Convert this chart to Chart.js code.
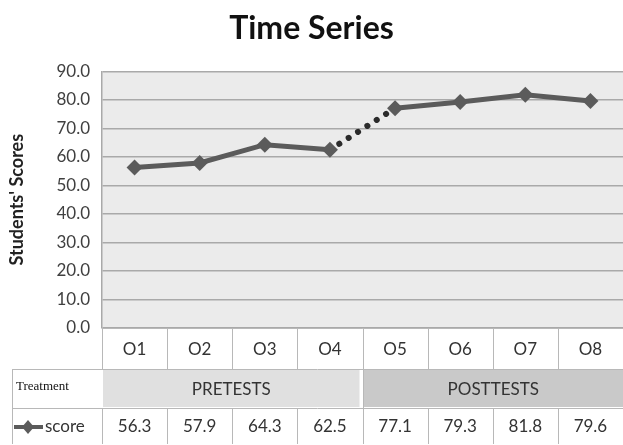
<!DOCTYPE html>
<html>
<head>
<meta charset="utf-8">
<script src="https://cdn.jsdelivr.net/npm/chart.js@4"></script>
<style>
  html, body { margin: 0; padding: 0; background: #fff; overflow: hidden; }
  /* 8px breiter: Chart.js hält rechts Platz für die Punkte frei */
  #wrap { width: 631px; height: 445px; }
</style>
</head>
<body>
<div id="wrap"><canvas id="chart"></canvas></div>
<script>
const kategorien = ["O1", "O2", "O3", "O4", "O5", "O6", "O7", "O8"];
const werte = [56.3, 57.9, 64.3, 62.5, 77.1, 79.3, 81.8, 79.6];
const behandlung = ["PRETESTS", "PRETESTS", "PRETESTS", "PRETESTS", "POSTTESTS", "POSTTESTS", "POSTTESTS", "POSTTESTS"];
const phasenFarben = { PRETESTS: "#e0e0e0", POSTTESTS: "#c9c9c9" };
const gepunktet = [3]; // Segment O4 -> O5
const serienName = "score";
const zeilenTitel = "Treatment";
const yMax = 90;
const yStep = 10;

const SANS = "Lato, 'Open Sans', sans-serif";
const linienFarbe = "#5b5b5b";

const hintergrund = {
  id: "hintergrund",
  beforeDraw(chart) {
    const { ctx, chartArea: a } = chart;
    ctx.save();
    ctx.fillStyle = "#ebebeb";
    ctx.fillRect(a.left, a.top, a.right - a.left, a.bottom - a.top);
    ctx.restore();
  }
};

/* Datentabelle unter dem Diagramm */
const tabelle = {
  id: "tabelle",
  afterDraw(chart) {
    const { ctx, chartArea: a } = chart;
    const x = chart.scales.x;
    const n = kategorien.length;
    const colW = (a.right - a.left) / n;
    const r1 = a.bottom, r2 = a.bottom + 41, r3 = r2 + 39, r4 = chart.height - 1;
    const links = 12;
    const kante = i => x.getPixelForValue(i) - colW / 2;

    ctx.save();
    // Phasen zusammenfassen
    let start = 0;
    for (let i = 1; i <= n; i++) {
      if (i === n || behandlung[i] !== behandlung[start]) {
        const x0 = kante(start) + 1;
        const x1 = i === n ? a.right : kante(i) - 3;
        ctx.fillStyle = phasenFarben[behandlung[start]];
        ctx.fillRect(x0, r2 + 1, x1 - x0, r3 - r2 - 2);
        ctx.fillStyle = "#333";
        ctx.font = "17px " + SANS;
        ctx.textAlign = "center";
        ctx.textBaseline = "middle";
        ctx.fillText(behandlung[start], (x0 + x1) / 2, (r2 + r3) / 2 + 1);
        start = i;
      }
    }

    ctx.strokeStyle = "#b8b8b8";
    ctx.lineWidth = 1;
    ctx.beginPath();
    // waagerechte Linien
    ctx.moveTo(a.left, r1 + 0.5); ctx.lineTo(a.right, r1 + 0.5);
    ctx.moveTo(links, r2 + 0.5); ctx.lineTo(a.right, r2 + 0.5);
    ctx.moveTo(links, r3 + 0.5); ctx.lineTo(a.right, r3 + 0.5);
    // senkrechte Linien
    for (let i = 0; i < n; i++) {
      const xx = Math.round(kante(i)) + 0.5;
      ctx.moveTo(xx, r1); ctx.lineTo(xx, r2);
      ctx.moveTo(xx, r3); ctx.lineTo(xx, r4);
    }
    ctx.moveTo(Math.round(kante(4)) + 0.5, r2); ctx.lineTo(Math.round(kante(4)) + 0.5, r3);
    ctx.moveTo(links + 0.5, r2); ctx.lineTo(links + 0.5, r4);
    ctx.stroke();

    // Kategorien und Werte
    ctx.fillStyle = "#333";
    ctx.font = "17px " + SANS;
    ctx.textAlign = "center";
    ctx.textBaseline = "middle";
    for (let i = 0; i < n; i++) {
      const cx = x.getPixelForValue(i);
      ctx.fillText(kategorien[i], cx, (r1 + r2) / 2 + 1);
      ctx.fillText(werte[i].toFixed(1), cx, (r3 + r4) / 2 + 1);
    }

    // Zeilentitel
    ctx.font = "13px 'Liberation Serif', serif";
    ctx.textAlign = "left";
    ctx.fillStyle = "#111";
    ctx.fillText(zeilenTitel, links + 4, (r2 + r3) / 2 - 2);

    // Legendenzeichen
    const ly = (r3 + r4) / 2 + 1;
    ctx.strokeStyle = linienFarbe;
    ctx.lineWidth = 4;
    ctx.beginPath();
    ctx.moveTo(14, ly); ctx.lineTo(43, ly);
    ctx.stroke();
    ctx.fillStyle = linienFarbe;
    ctx.beginPath();
    ctx.moveTo(28, ly - 7); ctx.lineTo(34, ly); ctx.lineTo(28, ly + 7); ctx.lineTo(22, ly);
    ctx.closePath();
    ctx.fill();
    ctx.fillStyle = "#333";
    ctx.font = "17px " + SANS;
    ctx.fillText(serienName, 45, ly);
    ctx.restore();
  }
};

new Chart(document.getElementById("chart"), {
  type: "line",
  data: {
    labels: kategorien,
    datasets: [{
      label: serienName,
      data: werte,
      borderColor: linienFarbe,
      borderWidth: 5,
      pointStyle: "rectRot",
      pointRadius: 8,
      pointBackgroundColor: linienFarbe,
      pointBorderWidth: 0,
      tension: 0,
      segment: {
        borderDash: c => gepunktet.includes(c.p0DataIndex) ? [0.1, 11] : undefined,
        borderColor: c => gepunktet.includes(c.p0DataIndex) ? "#2b2b2b" : undefined,
        borderCapStyle: c => gepunktet.includes(c.p0DataIndex) ? "round" : undefined,
        borderWidth: c => gepunktet.includes(c.p0DataIndex) ? 6 : undefined
      }
    }]
  },
  options: {
    responsive: true,
    maintainAspectRatio: false,
    animation: false,
    layout: { padding: { left: 0, right: 8, top: 0, bottom: 0 } },
    plugins: {
      legend: { display: false },
      tooltip: { enabled: false },
      title: {
        display: true,
        text: "Time Series",
        color: "#111",
        font: { family: SANS, size: 32, weight: "bold" },
        padding: { top: 9, bottom: 24 }
      }
    },
    scales: {
      x: {
        offset: true,
        ticks: { display: false },
        grid: { display: false },
        border: { display: false },
        afterFit: s => { s.height = 117; }
      },
      y: {
        min: 0,
        max: yMax,
        ticks: {
          stepSize: yStep,
          color: "#404040",
          font: { family: SANS, size: 17 },
          padding: 12,
          callback: v => v.toFixed(1)
        },
        grid: { color: "#a9a9a9", lineWidth: 1.5, drawTicks: false },
        border: { display: true, color: "#a9a9a9", width: 1.5 },
        title: {
          display: true,
          text: "Students' Scores",
          color: "#222",
          font: { family: SANS, size: 18, weight: "bold" },
          padding: { top: 6, bottom: 0 }
        },
        afterFit: s => { s.width = 102; }
      }
    }
  },
  plugins: [hintergrund, tabelle]
});
</script>
</body>
</html>
